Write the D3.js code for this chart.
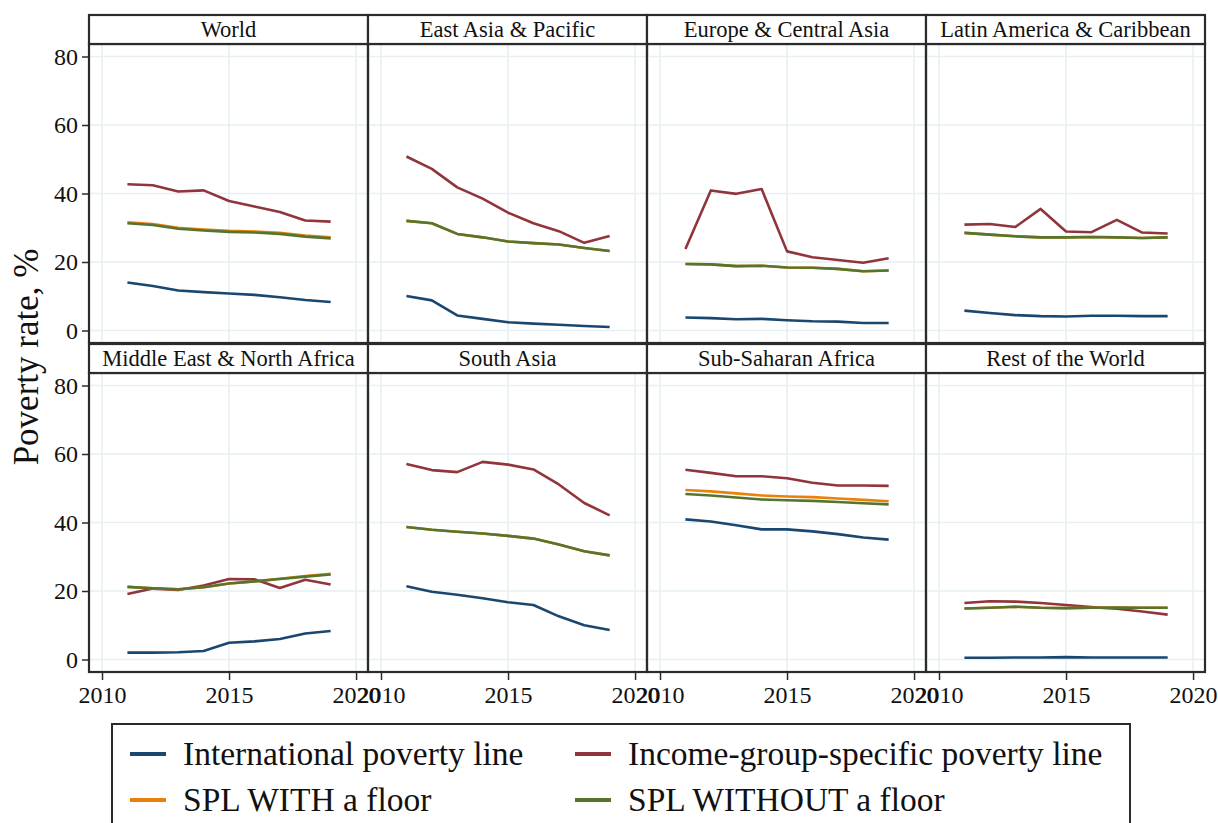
<!DOCTYPE html>
<html>
<head>
<meta charset="utf-8">
<script src="https://cdn.jsdelivr.net/npm/d3@7"></script>
<style>
  html, body { margin: 0; padding: 0; background: #fff; }
  svg { display: block; }
  text { font-family: "Liberation Serif", "Times New Roman", serif; fill: #111; }
</style>
</head>
<body>
<svg id="chart" width="1218" height="823"></svg>
<script>
// Survey years shared by every region
const years = [2011, 2012, 2013, 2014, 2015, 2016, 2017, 2018, 2019];

// Region panels, in reading order
const regions = [
  "World", "East Asia & Pacific", "Europe & Central Asia", "Latin America & Caribbean",
  "Middle East & North Africa", "South Asia", "Sub-Saharan Africa", "Rest of the World"
];

// Series labels (legend order)
const seriesNames = [
  "International poverty line",
  "Income-group-specific poverty line",
  "SPL WITH a floor",
  "SPL WITHOUT a floor"
];

// Poverty rates (%) under the international poverty line
const intlLine = [
  [14.0, 13.0, 11.7, 11.2, 10.8, 10.4, 9.7, 8.9, 8.3],
  [10.1, 8.8, 4.4, 3.4, 2.4, 2.0, 1.7, 1.3, 1.0],
  [3.8, 3.6, 3.3, 3.4, 3.0, 2.7, 2.6, 2.2, 2.2],
  [5.8, 5.1, 4.5, 4.2, 4.1, 4.3, 4.3, 4.2, 4.2],
  [2.0, 2.0, 2.1, 2.5, 4.9, 5.3, 6.0, 7.6, 8.3],
  [21.4, 19.8, 18.9, 17.9, 16.7, 15.9, 12.6, 10.0, 8.6],
  [40.9, 40.3, 39.2, 38.0, 38.0, 37.4, 36.6, 35.6, 35.0],
  [0.5, 0.5, 0.6, 0.6, 0.7, 0.6, 0.6, 0.6, 0.6]
];

// Poverty rates (%) under the income-group-specific poverty line
const incomeGroupLine = [
  [42.7, 42.4, 40.6, 40.9, 37.8, 36.2, 34.6, 32.1, 31.8],
  [50.8, 47.2, 41.8, 38.5, 34.4, 31.3, 29.0, 25.6, 27.6],
  [23.8, 40.9, 39.9, 41.3, 23.1, 21.4, 20.6, 19.8, 21.1],
  [30.9, 31.1, 30.2, 35.5, 28.9, 28.7, 32.3, 28.6, 28.3],
  [19.1, 20.7, 20.3, 21.6, 23.5, 23.4, 20.9, 23.3, 21.9],
  [57.1, 55.3, 54.7, 57.7, 56.9, 55.5, 51.1, 45.7, 42.1],
  [55.4, 54.5, 53.5, 53.5, 52.9, 51.6, 50.8, 50.8, 50.7],
  [16.5, 17.0, 16.9, 16.5, 15.9, 15.3, 14.8, 14.0, 13.1]
];

// Poverty rates (%) under the societal poverty line with a floor
const splWithFloor = [
  [31.6, 31.1, 30.0, 29.5, 29.1, 28.9, 28.5, 27.7, 27.2],
  [32.0, 31.3, 28.2, 27.2, 26.0, 25.5, 25.1, 24.1, 23.2],
  [19.4, 19.3, 18.8, 18.9, 18.4, 18.3, 18.0, 17.3, 17.5],
  [28.5, 28.0, 27.5, 27.2, 27.2, 27.3, 27.2, 27.0, 27.2],
  [21.2, 20.8, 20.5, 21.1, 22.2, 22.8, 23.6, 24.4, 25.0],
  [38.7, 37.9, 37.3, 36.8, 36.1, 35.3, 33.6, 31.6, 30.4],
  [49.5, 49.1, 48.5, 47.9, 47.6, 47.4, 47.0, 46.6, 46.2],
  [14.9, 15.1, 15.4, 15.1, 15.0, 15.1, 15.2, 15.1, 15.1]
];

// Poverty rates (%) under the societal poverty line without a floor
const splWithoutFloor = [
  [31.3, 30.8, 29.7, 29.2, 28.8, 28.6, 28.2, 27.4, 26.9],
  [32.0, 31.3, 28.2, 27.2, 26.0, 25.5, 25.1, 24.1, 23.2],
  [19.4, 19.3, 18.8, 18.9, 18.4, 18.3, 18.0, 17.3, 17.5],
  [28.5, 28.0, 27.5, 27.2, 27.2, 27.3, 27.2, 27.0, 27.2],
  [21.2, 20.8, 20.5, 21.1, 22.2, 22.8, 23.5, 24.2, 24.8],
  [38.7, 37.9, 37.3, 36.8, 36.1, 35.3, 33.6, 31.6, 30.4],
  [48.3, 47.9, 47.3, 46.7, 46.5, 46.3, 46.0, 45.6, 45.3],
  [14.9, 15.1, 15.4, 15.1, 15.0, 15.1, 15.2, 15.1, 15.1]
];

const yTicks = [0, 20, 40, 60, 80];
const xTicks = [2010, 2015, 2020];
const yAxisTitle = "Poverty rate, %";

const seriesData = [intlLine, incomeGroupLine, splWithFloor, splWithoutFloor];
const seriesColors = ["#1a476f", "#90353b", "#e8820c", "#55752f"];

// Layout
const svg = d3.select("#chart");
const panelW = 279, plotH = 299, headerH = 29;
const gridLeft = 89;
const headerTops = [15, 344];
const plotTops = [44, 373];
const frame = "#2b2b2b";
const gridColor = "#e6eff1";

regions.forEach((name, i) => {
  const row = Math.floor(i / 4), col = i % 4;
  const x0 = gridLeft + col * panelW;
  const top = plotTops[row];

  const x = d3.scaleLinear().domain([2009.488, 2020.47]).range([x0, x0 + panelW]);
  const y = d3.scaleLinear().domain([-3.65, 83.65]).range([top + plotH, top]);

  const g = svg.append("g");

  // grid
  g.selectAll(".hgrid").data(yTicks).join("line")
    .attr("x1", x0).attr("x2", x0 + panelW)
    .attr("y1", d => y(d)).attr("y2", d => y(d))
    .attr("stroke", gridColor).attr("stroke-width", 1.5);
  g.selectAll(".vgrid").data(xTicks).join("line")
    .attr("x1", d => x(d)).attr("x2", d => x(d))
    .attr("y1", top).attr("y2", top + plotH)
    .attr("stroke", gridColor).attr("stroke-width", 1.5);

  // series lines
  const line = d3.line().x((d, k) => x(years[k])).y(d => y(d));
  seriesData.forEach((series, s) => {
    g.append("path")
      .datum(series[i])
      .attr("d", line)
      .attr("fill", "none")
      .attr("stroke", seriesColors[s])
      .attr("stroke-width", 2.6)
      .attr("stroke-linejoin", "round");
  });

  // y axis on the first column
  if (col === 0) {
    const ax = g.append("g").attr("transform", `translate(${x0},0)`)
      .call(d3.axisLeft(y).tickValues(yTicks).tickSize(7).tickPadding(4).tickFormat(d3.format("d")));
    ax.select(".domain").remove();
    ax.selectAll(".tick line").attr("stroke", frame).attr("stroke-width", 1.5);
    ax.selectAll(".tick text").style("font-family", "Liberation Serif").style("font-size", "24px").attr("fill", "#111");
  }

  // x axis on the bottom row
  if (row === 1) {
    const ax = g.append("g").attr("transform", `translate(0,${top + plotH})`)
      .call(d3.axisBottom(x).tickValues(xTicks).tickSize(8).tickPadding(6).tickFormat(d3.format("d")));
    ax.select(".domain").remove();
    ax.selectAll(".tick line").attr("stroke", frame).attr("stroke-width", 1.5);
    ax.selectAll(".tick text").style("font-family", "Liberation Serif").style("font-size", "24px").attr("fill", "#111");
  }

  // panel frame and strip header
  g.append("rect")
    .attr("x", x0).attr("y", top).attr("width", panelW).attr("height", plotH)
    .attr("fill", "none").attr("stroke", frame).attr("stroke-width", 2.2);
  g.append("rect")
    .attr("x", x0).attr("y", headerTops[row]).attr("width", panelW).attr("height", top - headerTops[row])
    .attr("fill", "#fff").attr("stroke", frame).attr("stroke-width", 2.2);
  g.append("text")
    .attr("x", x0 + panelW / 2).attr("y", headerTops[row] + (top - headerTops[row]) / 2 + 7.5)
    .attr("text-anchor", "middle")
    .style("font-size", "22.5px")
    .text(name);
});

// y axis title
svg.append("text")
  .attr("transform", "translate(38,357) rotate(-90)")
  .attr("text-anchor", "middle")
  .style("font-size", "35px")
  .text(yAxisTitle);

// legend
const legend = svg.append("g");
legend.append("rect")
  .attr("x", 112).attr("y", 724).attr("width", 1018).attr("height", 120)
  .attr("fill", "#fff").attr("stroke", frame).attr("stroke-width", 2);

const legendPos = [[130, 754], [575, 754], [130, 800], [575, 800]];
seriesNames.forEach((nm, s) => {
  const [lx, ly] = legendPos[s];
  legend.append("line")
    .attr("x1", lx).attr("x2", lx + 36).attr("y1", ly).attr("y2", ly)
    .attr("stroke", seriesColors[s]).attr("stroke-width", 4);
  legend.append("text")
    .attr("x", lx + 53).attr("y", ly + 11)
    .style("font-size", "33.5px")
    .text(nm);
});
</script>
</body>
</html>
